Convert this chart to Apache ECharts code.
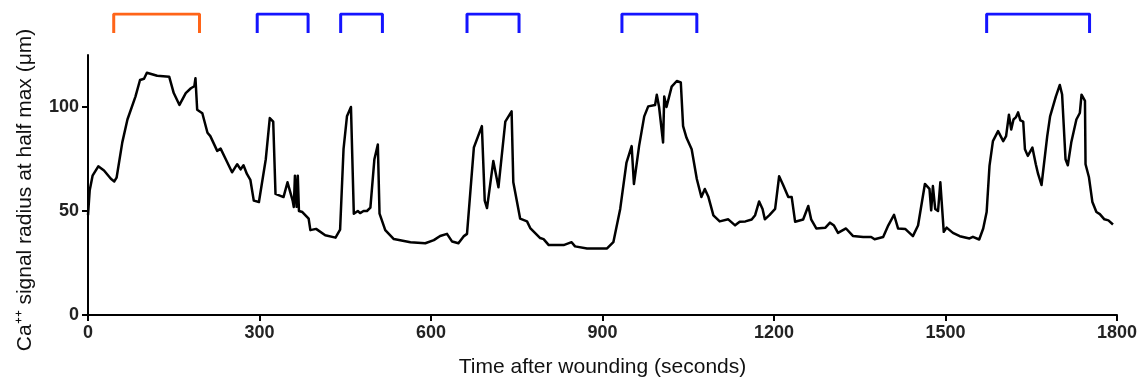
<!DOCTYPE html>
<html><head><meta charset="utf-8">
<script src="https://cdn.jsdelivr.net/npm/echarts@6/dist/echarts.min.js"></script>
<style>html,body{margin:0;padding:0;background:#fff}#c{width:1140px;height:383px}</style>
</head><body><div id="c"></div>
<script>
const times = [0,3,8,18,28,40,46,50,60,69,83,91,98,103,121,142,150,160,171,180,186,188,191,200,209,214,226,232,241,252,261,267,272,278,284,290,299,311,318,324,328,342,349,358,360,362,365,367,369,375,386,389,399,415,433,441,447,453,460,465,472,476,482,488,494,501,507,510,520,535,564,590,605,616,628,637,648,657,663,675,689,694,698,709,718,730,741,744,756,768,774,791,797,806,832,846,852,873,908,919,931,942,951,955,964,973,980,992,995,999,1006,1008,1012,1021,1030,1037,1041,1047,1056,1065,1073,1079,1085,1094,1105,1120,1132,1140,1150,1161,1167,1174,1180,1184,1192,1202,1209,1216,1225,1231,1237,1251,1260,1265,1274,1290,1298,1305,1312,1326,1338,1356,1370,1376,1391,1400,1410,1417,1430,1443,1452,1464,1472,1475,1478,1482,1487,1491,1497,1502,1513,1525,1542,1548,1559,1566,1572,1577,1583,1592,1601,1606,1611,1615,1619,1623,1627,1631,1636,1639,1644,1652,1658,1662,1668,1678,1683,1693,1700,1704,1710,1714,1720,1729,1735,1738,1744,1745,1751,1757,1764,1770,1778,1785,1793];
const radius = [48,60,67,71.5,69.5,65.5,64.2,66,83,94,105,113,113.6,116.5,115,114.6,106.7,101,106.7,109,110,113.8,98.7,97,87.6,86,78.9,80,74.9,68.6,72.5,70,72,67.8,65,55,54.3,74.9,94.7,93,58.2,56.7,63.8,55,51.9,67,52,67,50,49.5,46.3,40.8,41.4,38.3,37.2,41,79.7,95.5,100,48.7,50,49,50,50,51.6,74.9,82,48.7,40.8,36.5,35,34.5,36,38,39,35.3,34.5,37.8,39,80.5,90.8,55,51.4,74,61.4,93,97.9,63.8,46.3,45,41.6,37,36.5,33.6,33.6,35,33,32,32,35,51,73.3,81.2,63,81.2,95.5,100.3,101,105.9,100,82.9,105,100,109.8,112.5,111.8,90.8,85.2,79.7,65.4,56.7,60.6,57,47.9,45,46,43.1,44.8,45,45.9,48,54.6,51,46,48,51,66.7,62.5,56.7,56.7,44.8,45.9,52.4,46,41.6,42,44.4,43,39.5,41.6,38,37.5,37.5,36.4,37.5,43.1,48.2,41.6,41.3,37.9,43,63,60.6,50.3,62,51,50,63.8,40,42,39.5,37.9,36.8,37.6,36.3,41.6,49.5,71.7,83.6,88.4,83.6,86,96.3,89.2,94,95,97.4,93.6,93,79.7,76.5,80.5,72.5,67.8,62.5,86,95.5,105,110.6,106,74.9,72,82.9,94,97.1,105.9,103,72.5,66.2,54.3,49.5,48.5,46,45.5,43.5];
const xTicks = [0,300,600,900,1200,1500,1800];
const yTicks = [0,50,100];
const orangeBrackets = [[45,195]];
const blueBrackets = [[296,385],[442,515],[663,754],[934,1065],[1572,1752]];

const chart = echarts.init(document.getElementById('c'));
const font = 'Liberation Sans, Arial, sans-serif';
function bracketData(list){
  const d=[];
  list.forEach(([s,e])=>{d.push([s,0],[s,1],[e,1],[e,0],[null,null]);});
  return d;
}
const series = [{
  type:'line', xAxisIndex:0, yAxisIndex:0,
  data: times.map((t,i)=>[t,radius[i]]),
  showSymbol:false, symbol:'none',
  lineStyle:{color:'#000',width:2.5,join:'round'}, animation:false
},{
  type:'line', xAxisIndex:1, yAxisIndex:1, data:bracketData(orangeBrackets),
  showSymbol:false, symbol:'none', connectNulls:false,
  lineStyle:{color:'#FF6418',width:3}, animation:false
},{
  type:'line', xAxisIndex:1, yAxisIndex:1, data:bracketData(blueBrackets),
  showSymbol:false, symbol:'none', connectNulls:false,
  lineStyle:{color:'#1414FF',width:3}, animation:false
}];
chart.setOption({
  animation:false,
  grid:[{left:88,right:23,top:55,bottom:66},{left:88,right:23,top:14,height:19}],
  xAxis:[{
    type:'value', gridIndex:0, min:0, max:1800, interval:300,
    name:'Time after wounding (seconds)', nameLocation:'middle', nameGap:42,
    nameTextStyle:{fontFamily:font,fontSize:21,color:'#111'},
    axisLine:{onZero:false,lineStyle:{color:'#000',width:2}},
    axisTick:{show:true,length:6,lineStyle:{color:'#000',width:2},customValues:xTicks},
    axisLabel:{fontFamily:font,fontSize:18,fontWeight:'bold',color:'#222',margin:9,customValues:xTicks,formatter:v=>String(v)},
    splitLine:{show:false}
  },{
    type:'value', gridIndex:1, min:0, max:1800, show:false
  }],
  yAxis:[{
    type:'value', gridIndex:0, min:0, max:125, interval:50,
    name:'Ca⁺⁺ signal radius at half max (μm)', nameLocation:'middle', nameGap:52,
    nameTextStyle:{fontFamily:font,fontSize:21,color:'#111',padding:[0,10,0,0]},
    axisLine:{show:true,lineStyle:{color:'#000',width:2}},
    axisTick:{show:true,length:6,lineStyle:{color:'#000',width:2},customValues:yTicks},
    axisLabel:{fontFamily:font,fontSize:18,fontWeight:'bold',color:'#222',margin:9,customValues:yTicks,formatter:v=>String(v)},
    splitLine:{show:false}
  },{
    type:'value', gridIndex:1, min:0, max:1, show:false
  }],
  series
});
</script></body></html>
